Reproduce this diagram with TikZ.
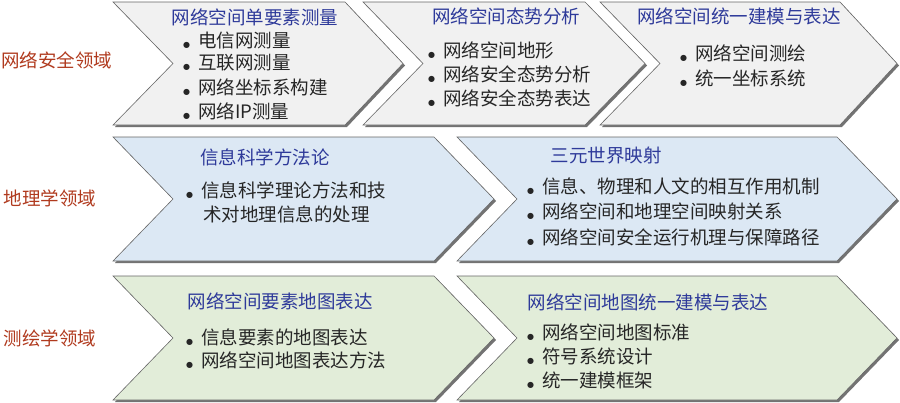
\documentclass[tikz,border=0pt]{standalone}
\usepackage{fontspec}
\newfontfamily\cjk{Noto Sans CJK SC}
\newfontfamily\dv{DejaVu Sans}
\begin{document}
\begin{tikzpicture}[x=1pt,y=-1pt,
  cjkfont/.style={font=\cjk\fontsize{18.5}{24}\selectfont},
  ttl/.style={cjkfont,text=titleblue,inner sep=0pt},
  itm/.style={cjkfont,text=black!85,inner sep=0pt,anchor=west,align=left},
  lab/.style={cjkfont,text=labred,inner sep=0pt},
  chev/.style={draw=black!60,line width=0.6pt},
  shadow/.style={fill=black!55,draw=none}]
\definecolor{titleblue}{HTML}{2E3A9A}
\definecolor{labred}{HTML}{B03A1E}
\definecolor{fgray}{HTML}{F1F1F1}
\definecolor{fblue}{HTML}{DCE8F4}
\definecolor{fgreen}{HTML}{E2EDD9}
\newcommand{\bul}{{\dv\fontsize{8}{10}\selectfont●}\hspace{8pt}}
\useasboundingbox (0,0) rectangle (900,402);
\newcommand{\mychev}[7]{%
  \pgfmathsetmacro{\mid}{(#5+#6)/2}
  \fill[shadow] ({#1+2},{#5+2}) -- ({#3+2},{#5+2}) -- ({#4+2},{\mid+2}) -- ({#3+2},{#6+2}) -- ({#1+2},{#6+2}) -- ({#2+2},{\mid+2}) -- cycle;
  \filldraw[chev,fill=#7] (#1,#5) -- (#3,#5) -- (#4,\mid) -- (#3,#6) -- (#1,#6) -- (#2,\mid) -- cycle;}
\mychev{113}{173}{345}{403}{2}{125}{fgray}
\mychev{363}{423}{585}{645}{2}{125}{fgray}
\mychev{600}{660}{840}{897}{2}{125}{fgray}
\mychev{113}{173}{434}{494}{137}{261}{fblue}
\mychev{457}{517}{837}{897}{137}{261}{fblue}
\mychev{113}{173}{434}{494}{276}{400}{fgreen}
\mychev{457}{517}{837}{897}{276}{400}{fgreen}
% labels
\node[lab] (l1) at (57,60) {网络安全领域};
\node[lab] (l2) at (50,198) {地理学领域};
\node[lab] (l3) at (50,338) {测绘学领域};
% row1
\node[ttl] (t1) at (255,17) {网络空间单要素测量};
\node[itm] (a1) at (183,40) {\bul 电信网测量};
\node[itm] (a2) at (183,63) {\bul 互联网测量};
\node[itm] (a3) at (183,87) {\bul 网络坐标系构建};
\node[itm] (a4) at (183,111) {\bul 网络IP测量};
\node[ttl] (t2) at (506,16) {网络空间态势分析};
\node[itm] (b1) at (428,50) {\bul 网络空间地形};
\node[itm] (b2) at (428,74) {\bul 网络安全态势分析};
\node[itm] (b3) at (428,98) {\bul 网络安全态势表达};
\node[ttl] (t3) at (739,16) {网络空间统一建模与表达};
\node[itm] (c1) at (680,53) {\bul 网络空间测绘};
\node[itm] (c2) at (680,78) {\bul 统一坐标系统};
% row2
\node[ttl] (t4) at (265,157) {信息科学方法论};
\node[itm] (d1) at (186,190) {\bul 信息科学理论方法和技};
\node[itm] (d2) at (203,214) {术对地理信息的处理};
\node[ttl] (t5) at (606,156) {三元世界映射};
\node[itm] (e1) at (527,186) {\bul 信息、物理和人文的相互作用机制};
\node[itm] (e2) at (527,211) {\bul 网络空间和地理空间映射关系};
\node[itm] (e3) at (527,237) {\bul 网络空间安全运行机理与保障路径};
% row3
\node[ttl] (t6) at (280,301) {网络空间要素地图表达};
\node[itm] (f1) at (186,337) {\bul 信息要素的地图表达};
\node[itm] (f2) at (186,360) {\bul 网络空间地图表达方法};
\node[ttl] (t7) at (648,302) {网络空间地图统一建模与表达};
\node[itm] (g1) at (527,332) {\bul 网络空间地图标准};
\node[itm] (g2) at (527,356) {\bul 符号系统设计};
\node[itm] (g3) at (527,380) {\bul 统一建模框架};
\end{tikzpicture}
\end{document}
